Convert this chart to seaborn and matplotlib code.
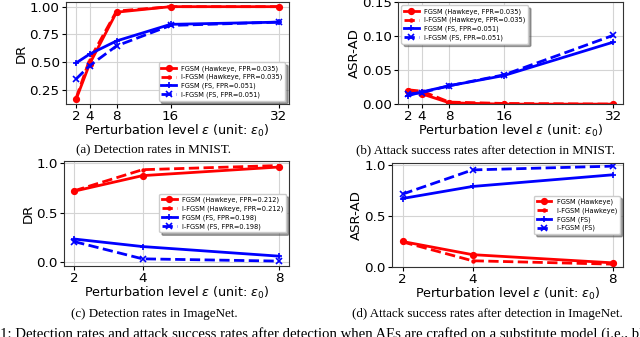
import numpy as np
import pandas as pd
import matplotlib
matplotlib.use("Agg")
import matplotlib.pyplot as plt
import seaborn as sns

# === data ===
eps_mnist = [2, 4, 8, 16, 32]
eps_imagenet = [2, 4, 8]

# (a) detection rates in MNIST
dr_mnist_fgsm_hk = [0.16, 0.48, 0.95, 1.0, 1.0]
dr_mnist_ifgsm_hk = [0.17, 0.52, 0.96, 1.0, 1.0]
dr_mnist_fgsm_fs = [0.49, 0.57, 0.69, 0.84, 0.86]
dr_mnist_ifgsm_fs = [0.345, 0.465, 0.645, 0.83, 0.86]

# (b) ASR-AD in MNIST
asr_mnist_fgsm_hk = [0.020, 0.015, 0.002, 0.0, 0.0]
asr_mnist_ifgsm_hk = [0.021, 0.019, 0.003, 0.001, 0.0]
asr_mnist_fgsm_fs = [0.0125, 0.018, 0.027, 0.042, 0.091]
asr_mnist_ifgsm_fs = [0.015, 0.017, 0.027, 0.043, 0.101]

# (c) detection rates in ImageNet
dr_in_fgsm_hk = [0.716, 0.873, 0.96]
dr_in_ifgsm_hk = [0.72, 0.933, 0.975]
dr_in_fgsm_fs = [0.233, 0.157, 0.06]
dr_in_ifgsm_fs = [0.207, 0.033, 0.01]

# (d) ASR-AD in ImageNet
asr_in_fgsm_hk = [0.249, 0.12, 0.04]
asr_in_ifgsm_hk = [0.245, 0.06, 0.027]
asr_in_fgsm_fs = [0.67, 0.788, 0.902]
asr_in_ifgsm_fs = [0.713, 0.95, 0.987]

labels_mnist = ["FGSM (Hawkeye, FPR=0.035)", "I-FGSM (Hawkeye, FPR=0.035)",
                "FGSM (FS, FPR=0.051)", "I-FGSM (FS, FPR=0.051)"]
labels_in_dr = ["FGSM (Hawkeye, FPR=0.212)", "I-FGSM (Hawkeye, FPR=0.212)",
                "FGSM (FS, FPR=0.198)", "I-FGSM (FS, FPR=0.198)"]
labels_in_asr = ["FGSM (Hawkeye)", "I-FGSM (Hawkeye)", "FGSM (FS)", "I-FGSM (FS)"]

styles = [("red", "-", "o"), ("red", "--", "."), ("blue", "-", "+"), ("blue", "--", "x")]

plt.rcParams["axes.edgecolor"] = "#333333"

fig = plt.figure(figsize=(6.4, 3.37), dpi=100)


def panel(rect, x, series, labels, ylabel, legend_loc, xticks, ylim=None, yticks=None):
    ax = fig.add_axes(rect)
    for vals, lab, (c, ls, m) in zip(series, labels, styles):
        sns.lineplot(x=x, y=vals, ax=ax, color=c, marker=m, markersize=4,
                     markeredgewidth=1.2, markeredgecolor=c, markerfacecolor=c,
                     linewidth=2, label=lab, legend=False)
        ax.lines[-1].set_linestyle(ls)
    ax.grid(True, color="#d4d4d4", linewidth=0.8)
    ax.set_xticks(xticks)
    if ylim is not None:
        ax.set_ylim(*ylim)
    if yticks is not None:
        ax.set_yticks(yticks)
    ax.tick_params(labelsize=9.7, length=3, pad=1.5)
    ax.set_ylabel(ylabel, fontsize=9.5, labelpad=1)
    ax.set_xlabel(r"Perturbation level $\epsilon$ (unit: $\epsilon_0$)", fontsize=9.2, labelpad=0)
    ax.legend(loc=legend_loc, fontsize=4.8, shadow=True, handlelength=2.2,
              borderpad=0.4, labelspacing=0.35)
    return ax


panel([0.103, 0.691, 0.348, 0.303], eps_mnist,
      [dr_mnist_fgsm_hk, dr_mnist_ifgsm_hk, dr_mnist_fgsm_fs, dr_mnist_ifgsm_fs],
      labels_mnist, "DR", "lower right", eps_mnist, yticks=[0.25, 0.5, 0.75, 1.0])
panel([0.622, 0.691, 0.352, 0.303], eps_mnist,
      [asr_mnist_fgsm_hk, asr_mnist_ifgsm_hk, asr_mnist_fgsm_fs, asr_mnist_ifgsm_fs],
      labels_mnist, "ASR-AD", "upper left", eps_mnist, ylim=(0, 0.15),
      yticks=[0.0, 0.05, 0.10, 0.15])
panel([0.1, 0.211, 0.352, 0.312], eps_imagenet,
      [dr_in_fgsm_hk, dr_in_ifgsm_hk, dr_in_fgsm_fs, dr_in_ifgsm_fs],
      labels_in_dr, "DR", "center right", eps_imagenet, yticks=[0.0, 0.5, 1.0])
panel([0.6125, 0.208, 0.361, 0.309], eps_imagenet,
      [asr_in_fgsm_hk, asr_in_ifgsm_hk, asr_in_fgsm_fs, asr_in_ifgsm_fs],
      labels_in_asr, "ASR-AD", "center right", eps_imagenet, ylim=(0, 1.02),
      yticks=[0.0, 0.5, 1.0])

# === captions ===
cap = dict(family="Liberation Serif", fontsize=9.4, ha="center", va="center")
fig.text(154 / 640, 1 - 150 / 337, "(a) Detection rates in MNIST.", **cap)
fig.text(486 / 640, 1 - 150 / 337, "(b) Attack success rates after detection in MNIST.", **cap)
fig.text(154 / 640, 1 - 314 / 337, "(c) Detection rates in ImageNet.", **cap)
fig.text(487 / 640, 1 - 314 / 337, "(d) Attack success rates after detection in ImageNet.", **cap)
fig.text(-27 / 640, 1 - 334 / 337,
         "Fig. 1: Detection rates and attack success rates after detection when AEs are "
         "crafted on a substitute model (i.e., black-box setting).",
         family="Liberation Serif", fontsize=10.6, ha="left", va="center")

fig.savefig("out.png", dpi=100)
